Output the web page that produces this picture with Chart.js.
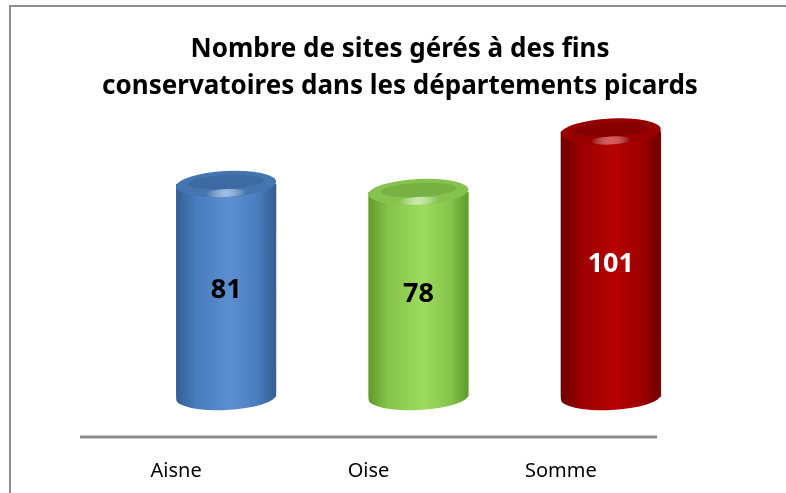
<!DOCTYPE html>
<html>
<head>
<meta charset="utf-8">
<script src="https://cdn.jsdelivr.net/npm/chart.js@4.4.1/dist/chart.umd.min.js"></script>
<style>
  html, body { margin: 0; padding: 0; background: #fff; overflow: hidden; }
  #frame { position: absolute; left: 9px; top: 5px; width: 820px; height: 520px; border: 2px solid #8c8c8c; }
  #wrap { position: absolute; left: 0; top: 0; width: 786px; height: 493px; }
</style>
</head>
<body>
<div id="frame"></div>
<div id="wrap"><canvas id="bar-chart"></canvas></div>
<script>
var categories = ['Aisne', 'Oise', 'Somme'];
var values = [81, 78, 101];
var titleLines = ['Nombre de sites gérés à des fins', 'conservatoires dans les départements picards'];

// couleurs des cylindres : bord sombre, milieu clair, couvercle, reflet
var shades = [
    { edge: '#335e91', half: '#4a7dbd', mid: '#5b8fd1', cap: '#4575b0', capIn: '#3d6aa2', glow: '#b4cff0', text: '#000' },
    { edge: '#5f9a2b', half: '#85c34a', mid: '#9ddc5e', cap: '#86c34e', capIn: '#77b043', glow: '#dcf5c0', text: '#000' },
    { edge: '#6c0000', half: '#9c0000', mid: '#b50303', cap: '#980000', capIn: '#860000', glow: '#e87070', text: '#fff' }
];

var depth = 50; // décalage de la perspective 3D

var cylinders = {
    id: 'cylinders',
    afterDatasetsDraw: function(chart) {
        var ctx = chart.ctx;
        var meta = chart.getDatasetMeta(0);
        var area = chart.chartArea;
        // ligne du sol
        var floorY = meta.data[0].base + 40;
        ctx.save();
        ctx.strokeStyle = '#8c8c8c';
        ctx.lineWidth = 3;
        ctx.beginPath();
        ctx.moveTo(area.left - depth, floorY);
        ctx.lineTo(area.right - depth, floorY);
        ctx.stroke();
        ctx.restore();

        meta.data.forEach(function(bar, i) {
            var s = shades[i];
            var w = bar.width, cx = bar.x, top = bar.y, base = bar.base;
            var l = cx - w / 2, r = cx + w / 2, ry = 13, rot = -0.05;
            ctx.save();
            var g = ctx.createLinearGradient(l, 0, r, 0);
            g.addColorStop(0, s.edge);
            g.addColorStop(0.2, s.half);
            g.addColorStop(0.55, s.mid);
            g.addColorStop(0.82, s.half);
            g.addColorStop(1, s.edge);
            ctx.fillStyle = g;
            ctx.beginPath();
            ctx.moveTo(l, top);
            ctx.lineTo(l, base);
            ctx.ellipse(cx, base, w / 2, ry, rot, Math.PI, 0, true);
            ctx.lineTo(r, top);
            ctx.closePath();
            ctx.fill();
            // couvercle
            ctx.fillStyle = s.cap;
            ctx.beginPath();
            ctx.ellipse(cx, top, w / 2, ry, rot, 0, Math.PI * 2);
            ctx.fill();
            ctx.fillStyle = s.capIn;
            ctx.beginPath();
            ctx.ellipse(cx, top - 2, w / 2 - 12, ry - 6, rot, 0, Math.PI * 2);
            ctx.fill();
            var hg = ctx.createRadialGradient(cx, top + ry - 4, 1, cx, top + ry - 4, 20);
            hg.addColorStop(0, s.glow);
            hg.addColorStop(1, 'rgba(255,255,255,0)');
            ctx.globalAlpha = 0.8;
            ctx.fillStyle = hg;
            ctx.beginPath();
            ctx.ellipse(cx, top + ry - 4, 22, 4, rot, 0, Math.PI * 2);
            ctx.fill();
            ctx.globalAlpha = 1;
            // valeur
            ctx.fillStyle = s.text;
            ctx.font = 'bold 27px "Noto Sans", sans-serif';
            ctx.textAlign = 'center';
            ctx.textBaseline = 'middle';
            ctx.fillText(String(values[i]), cx, (top + base) / 2);
            ctx.restore();
        });
    }
};

var barChart = document.getElementById('bar-chart');

var myBarChart = new Chart(barChart, {
    type: 'bar',
    data: {
        labels: categories,
        datasets: [
            {
                label: 'Sites',
                data: values,
                backgroundColor: shades.map(function(s) { return s.mid; }),
                borderWidth: 0,
                barPercentage: 0.52,
                categoryPercentage: 1
            }
        ]
    },
    options: {
        responsive: true,
        maintainAspectRatio: false,
        animation: false,
        layout: { padding: { left: 14, right: 0, top: 0, bottom: 0 } },
        plugins: {
            legend: { display: false },
            tooltip: { enabled: false },
            title: {
                display: true,
                text: titleLines,
                color: '#000',
                font: { family: '"Noto Sans", sans-serif', size: 26, weight: 'bold', lineHeight: 1.42 },
                padding: { top: 31, bottom: 3 }
            }
        },
        scales: {
            x: {
                grid: { display: false },
                border: { display: false },
                ticks: {
                    color: '#000',
                    labelOffset: -depth,
                    padding: 54,
                    font: { family: '"Noto Sans", sans-serif', size: 20 }
                },
                afterFit: function(scale) { scale.height = 96; }
            },
            y: {
                min: 0,
                max: 110,
                grid: { display: false },
                border: { display: false },
                ticks: { display: false },
                afterFit: function(scale) { scale.width = 116; }
            },
            yR: {
                position: 'right',
                grid: { display: false },
                border: { display: false },
                ticks: { display: false },
                afterFit: function(scale) { scale.width = 79; }
            }
        }
    },
    plugins: [cylinders]
});
</script>
</body>
</html>
